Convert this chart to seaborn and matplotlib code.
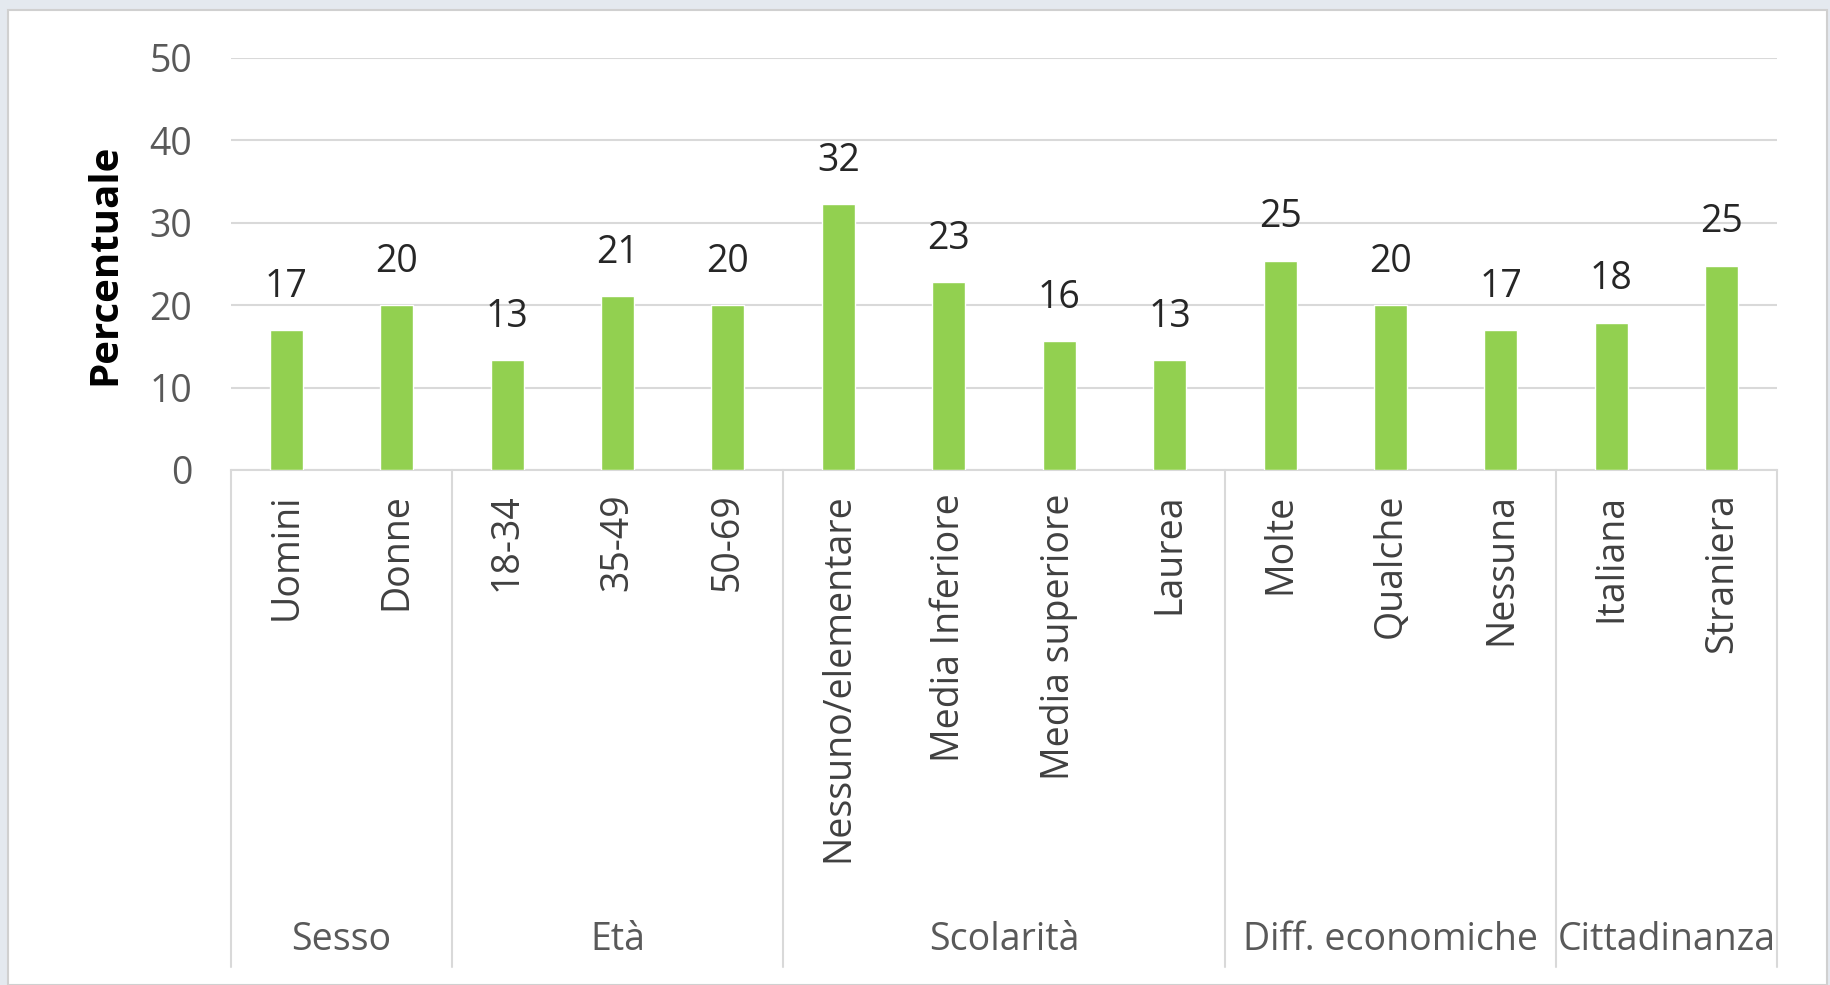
import matplotlib
matplotlib.use("Agg")
import matplotlib.pyplot as plt
import seaborn as sns
import pandas as pd
from matplotlib.patches import Rectangle

# dati
categorie = ['Uomini', 'Donne', '18-34', '35-49', '50-69',
             'Nessuno/elementare', 'Media Inferiore', 'Media superiore', 'Laurea',
             'Molte', 'Qualche', 'Nessuna', 'Italiana', 'Straniera']
valori = [17.0, 20.0, 13.3, 21.1, 20.0, 32.3, 22.8, 15.6, 13.3, 25.4, 20.0, 17.0, 17.9, 24.8]
gruppi = ['Sesso', 'Età', 'Scolarità', 'Diff. economiche', 'Cittadinanza']
n_per_gruppo = [2, 3, 4, 3, 2]

df = pd.DataFrame({'categoria': categorie, 'valore': valori})

sns.set_theme(style='white')
plt.rcParams['font.family'] = ['Open Sans', 'DejaVu Sans']

W, H = 1831, 985
fig = plt.figure(figsize=(W / 100, H / 100), dpi=100)
fig.patch.set_facecolor('#e4e9ef')
fig.patches.append(Rectangle((8 / W, 0), (1827 - 8) / W, 1 - 10 / H,
                             transform=fig.transFigure, facecolor='white',
                             edgecolor='#d0d0d0', lw=1.5, zorder=-10))

ax = fig.add_axes([231 / W, 1 - 470 / H, 1546 / W, 412 / H])
ax.set_facecolor('none')

sns.barplot(data=df, x='categoria', y='valore', color='#92d050',
            width=0.30, saturation=1, ax=ax, zorder=3)

ax.set_xlim(-0.5, len(categorie) - 0.5)
ax.set_ylim(0, 50)
ax.set_yticks(range(0, 51, 10))
ax.yaxis.grid(True, color='#d9d9d9', lw=1.5, zorder=0)
for s in ['top', 'right', 'left']:
    ax.spines[s].set_visible(False)
ax.spines['bottom'].set_color('#d9d9d9')
ax.spines['bottom'].set_linewidth(1.5)

ax.tick_params(axis='y', length=0, pad=28, labelsize=27, labelcolor='#595959')
ax.tick_params(axis='x', length=0, pad=17, labelsize=27, labelcolor='#404040')
ax.set_xticks(range(len(categorie)))
ax.set_xticklabels(categorie, rotation=90, va='top', ha='center')
ax.set_xlabel('')
ax.set_ylabel('Percentuale', fontsize=29, fontweight='bold', color='black')
ax.yaxis.set_label_coords(-0.069, 0.5)

# etichette dei valori
for i, v in enumerate(valori):
    ax.annotate(f'{v:.0f}', (i, v), xytext=(0, 24), textcoords='offset points',
                ha='center', va='baseline', fontsize=27, color='#262626')

# linee di separazione dei gruppi ed etichette
trans = ax.get_xaxis_transform()
bordi = [-0.5]
for n in n_per_gruppo:
    bordi.append(bordi[-1] + n)
for b in bordi:
    ax.plot([b, b], [0, -1.206], transform=trans, color='#d9d9d9', lw=1.5,
            clip_on=False)
for g, a, b in zip(gruppi, bordi[:-1], bordi[1:]):
    ax.text((a + b) / 2, -1.14, g, transform=trans, ha='center', va='center',
            fontsize=27, color='#595959')

fig.savefig('out.png', dpi=100, facecolor=fig.get_facecolor())
